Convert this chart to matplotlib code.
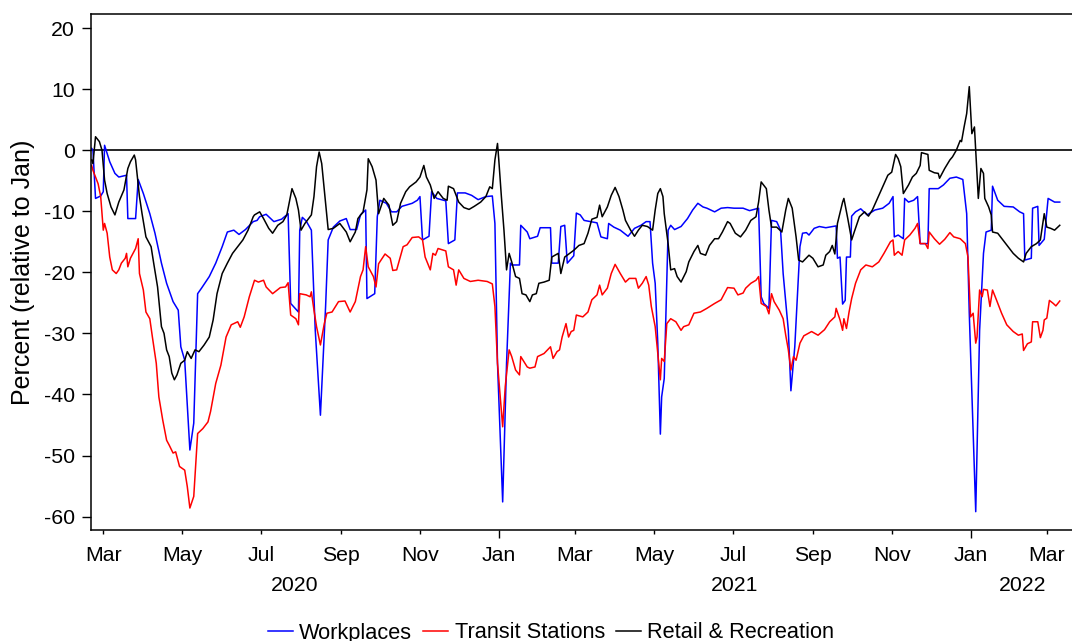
import matplotlib
matplotlib.use("Agg")
import matplotlib.pyplot as plt
import matplotlib.dates as mdates
import matplotlib.transforms as mtransforms
import pandas as pd

plt.rcParams["font.family"] = ["Liberation Sans", "DejaVu Sans"]
plt.rcParams["axes.unicode_minus"] = False

# mobility change vs January baseline, 7-day smoothed
# days are counted from this start date
start = pd.Timestamp("2020-02-15")

wp_day = [6, 7, 9, 13, 15, 16, 20, 24, 27, 33, 34, 40, 42, 46, 51, 55, 60, 64, 69, 73,
          75, 78, 82, 85, 88, 91, 97, 102, 107, 111, 116, 120, 125, 131, 134, 136, 141, 147, 153, 158,
          160, 166, 167, 169, 172, 176, 179, 183, 187, 189, 193, 198, 203, 206, 211, 214, 218, 219, 225, 227,
          229, 234, 238, 242, 246, 254, 258, 260, 262, 267, 269, 273, 280, 282, 287, 289, 295, 300, 305, 311,
          316, 318, 320, 324, 327, 330, 331, 337, 338, 343, 345, 351, 353, 361, 362, 367, 369, 372, 374, 379,
          381, 384, 387, 392, 397, 400, 405, 406, 410, 415, 421, 426, 431, 435, 438, 440, 442, 444, 446, 447,
          449, 452, 454, 457, 462, 467, 471, 475, 479, 482, 488, 493, 498, 503, 510, 515, 522, 524, 526, 530,
          532, 536, 539, 541, 545, 547, 550, 554, 556, 559, 561, 565, 569, 574, 582, 583, 585, 587, 589, 590,
          593, 594, 597, 601, 606, 612, 618, 623, 626, 627, 630, 634, 635, 638, 642, 645, 647, 653, 654, 661,
          665, 670, 675, 680, 683, 685, 690, 693, 696, 698, 702, 703, 707, 712, 719, 724, 727, 728, 733, 734,
          738, 739, 743, 746, 751, 755]
wp_val = [0.3, 0.0, -7.9, -7.5, -6.8, 0.8, -1.9, -3.8, -4.4, -4.1, -11.2, -11.2, -4.8, -7.1, -10.4, -13.6, -18.5, -21.8, -24.8, -26.2,
          -32.2, -34.4, -49.1, -44.7, -23.5, -22.6, -20.7, -18.5, -15.8, -13.4, -13.1, -13.8, -13.0, -11.7, -11.5, -10.9, -10.5, -11.7, -11.3, -10.4,
          -25.1, -26.5, -13.1, -11.0, -11.6, -13.1, -29.5, -43.4, -25.6, -14.7, -12.6, -11.6, -11.2, -13.0, -13.0, -10.6, -9.8, -24.3, -23.5, -10.9,
          -8.2, -8.7, -10.1, -10.1, -9.2, -8.7, -8.2, -7.6, -14.7, -14.1, -6.8, -7.9, -8.3, -15.3, -14.7, -7.0, -7.0, -7.4, -8.1, -7.6,
          -7.5, -12.0, -34.9, -57.6, -34.9, -18.5, -18.8, -18.8, -12.3, -13.4, -14.5, -14.1, -12.7, -12.7, -18.5, -18.5, -12.5, -12.3, -18.5, -17.3,
          -10.3, -10.6, -11.5, -11.7, -11.9, -14.2, -14.5, -12.0, -12.6, -13.1, -14.1, -12.8, -12.3, -11.7, -11.7, -18.5, -21.8, -31.6, -46.5, -40.4,
          -37.4, -13.1, -12.3, -13.0, -12.5, -11.2, -9.8, -8.7, -9.3, -9.5, -10.1, -9.5, -9.4, -9.5, -9.5, -9.9, -9.5, -24.0, -25.1, -25.9,
          -11.5, -11.7, -13.1, -20.2, -29.5, -39.4, -32.2, -15.8, -13.6, -13.5, -13.9, -12.8, -12.5, -12.7, -12.4, -17.7, -17.5, -25.2, -24.6, -17.5,
          -17.5, -10.8, -10.1, -9.6, -10.6, -9.8, -9.5, -8.7, -7.6, -14.2, -13.9, -14.5, -7.9, -8.5, -8.2, -7.6, -15.3, -15.3, -6.3, -6.3,
          -5.7, -4.6, -4.4, -4.8, -10.4, -26.7, -59.2, -29.5, -16.9, -13.4, -13.1, -5.9, -8.2, -9.2, -9.3, -10.1, -10.4, -18.0, -17.7, -9.5,
          -9.2, -15.6, -14.6, -7.9, -8.5, -8.5]

tr_day = [6, 7, 11, 13, 15, 16, 18, 20, 22, 25, 27, 29, 32, 33, 34, 36, 40, 42, 43, 46,
          48, 51, 53, 56, 58, 61, 64, 66, 69, 71, 74, 78, 80, 82, 85, 88, 92, 96, 98, 102,
          106, 110, 114, 119, 121, 124, 128, 132, 135, 139, 141, 146, 152, 156, 158, 160, 164, 166, 167, 172,
          175, 176, 178, 180, 183, 186, 188, 192, 197, 202, 206, 210, 214, 216, 218, 220, 224, 226, 228, 233,
          237, 239, 242, 247, 250, 254, 259, 262, 264, 268, 270, 272, 274, 280, 282, 286, 288, 290, 294, 299,
          305, 312, 316, 318, 320, 324, 326, 329, 331, 334, 337, 338, 343, 345, 349, 351, 356, 361, 363, 366,
          368, 370, 373, 375, 377, 379, 381, 386, 390, 393, 397, 399, 401, 405, 408, 411, 415, 419, 422, 427,
          429, 432, 435, 437, 439, 442, 446, 447, 449, 451, 454, 458, 462, 464, 468, 472, 477, 482, 488, 493,
          498, 503, 506, 510, 512, 516, 520, 522, 524, 528, 530, 532, 534, 538, 541, 543, 545, 547, 549, 551,
          554, 557, 563, 568, 573, 577, 581, 582, 585, 587, 588, 590, 592, 594, 597, 601, 605, 610, 615, 619,
          624, 626, 627, 630, 633, 635, 639, 643, 645, 647, 651, 653, 654, 658, 662, 666, 670, 673, 678, 682,
          684, 686, 688, 690, 691, 693, 695, 696, 699, 701, 703, 706, 710, 714, 719, 723, 726, 727, 730, 733,
          734, 738, 740, 742, 743, 745, 747, 750, 752, 755]
tr_val = [-2.5, -3.3, -5.5, -7.6, -13.1, -12.0, -13.6, -17.5, -19.6, -20.2, -19.6, -18.5, -17.7, -16.9, -19.1, -17.7, -16.1, -14.5, -20.2, -22.9,
          -26.5, -27.6, -30.6, -34.9, -40.4, -44.2, -47.5, -48.3, -49.6, -49.4, -51.8, -52.4, -55.1, -58.6, -56.7, -46.4, -45.6, -44.5, -42.8, -38.2,
          -35.2, -30.6, -28.6, -28.1, -29.0, -27.3, -24.0, -21.3, -21.6, -21.3, -22.4, -23.5, -22.5, -22.4, -21.7, -27.0, -27.6, -28.6, -23.5, -23.7,
          -24.0, -23.2, -26.2, -28.9, -31.9, -28.4, -26.7, -26.5, -24.8, -24.7, -26.5, -24.8, -20.7, -19.6, -15.8, -19.1, -20.7, -22.4, -18.6, -17.0,
          -17.7, -19.7, -19.6, -15.8, -15.5, -14.3, -14.2, -14.7, -17.5, -19.6, -16.9, -17.2, -16.1, -16.5, -19.1, -19.6, -22.1, -19.6, -21.0, -21.5,
          -21.3, -21.5, -21.9, -25.6, -34.9, -45.3, -38.7, -32.7, -33.8, -36.0, -36.8, -33.8, -35.5, -35.7, -35.5, -33.8, -33.3, -32.2, -34.1, -33.0,
          -32.7, -30.6, -28.4, -30.6, -29.7, -29.5, -27.0, -27.3, -26.5, -24.5, -23.7, -22.1, -23.7, -22.6, -20.2, -18.7, -20.2, -21.6, -21.0, -21.0,
          -22.6, -21.8, -20.7, -22.1, -25.6, -28.9, -37.6, -34.1, -34.6, -28.4, -27.6, -28.1, -29.5, -28.9, -28.6, -26.7, -26.5, -25.9, -25.1, -24.5,
          -22.5, -22.6, -23.7, -23.4, -22.6, -21.8, -21.3, -20.7, -25.1, -25.6, -26.8, -23.5, -24.8, -26.2, -27.6, -30.3, -32.7, -36.0, -33.8, -34.4,
          -31.6, -30.4, -29.7, -30.3, -29.4, -28.1, -27.3, -25.9, -27.8, -29.5, -27.6, -29.2, -26.5, -24.3, -21.8, -19.6, -18.8, -19.1, -18.3, -16.9,
          -15.0, -14.7, -17.2, -16.6, -17.2, -14.7, -13.9, -12.8, -12.0, -15.3, -15.3, -16.1, -13.4, -14.5, -15.4, -14.6, -13.5, -14.2, -14.5, -15.3,
          -17.5, -27.3, -26.7, -31.6, -30.6, -22.9, -24.0, -22.8, -22.9, -25.6, -22.9, -24.5, -26.7, -28.6, -29.7, -30.3, -30.1, -32.8, -31.7, -31.4,
          -28.1, -28.1, -30.7, -29.5, -27.8, -27.5, -24.6, -25.1, -25.5, -24.7]

rr_day = [6, 7, 9, 12, 14, 16, 18, 21, 24, 27, 31, 34, 36, 39, 40, 43, 45, 48, 52, 54,
          57, 60, 62, 64, 66, 68, 70, 72, 75, 78, 80, 83, 86, 89, 93, 97, 100, 103, 107, 111,
          115, 119, 123, 127, 131, 132, 136, 139, 143, 146, 150, 154, 157, 161, 164, 166, 168, 171, 176, 178,
          180, 182, 184, 187, 189, 193, 198, 203, 206, 210, 212, 216, 219, 220, 223, 226, 228, 232, 236, 239,
          242, 245, 249, 252, 257, 260, 263, 265, 268, 271, 274, 278, 281, 282, 286, 290, 294, 298, 302, 307,
          311, 314, 316, 318, 320, 321, 323, 325, 327, 329, 331, 334, 337, 339, 342, 345, 347, 350, 352, 356,
          360, 362, 367, 369, 372, 379, 383, 387, 390, 393, 397, 399, 401, 405, 408, 411, 414, 417, 419, 423,
          426, 429, 432, 436, 440, 442, 444, 446, 448, 449, 452, 454, 457, 459, 462, 466, 468, 472, 475, 477,
          481, 484, 488, 491, 494, 498, 500, 504, 508, 512, 516, 520, 522, 524, 528, 530, 532, 536, 540, 543,
          545, 548, 551, 553, 556, 561, 564, 568, 572, 574, 577, 579, 581, 583, 587, 588, 591, 594, 596, 600,
          604, 607, 610, 614, 618, 622, 625, 628, 630, 632, 634, 638, 641, 644, 647, 648, 653, 654, 658, 661,
          662, 666, 670, 672, 675, 678, 679, 681, 683, 685, 686, 687, 689, 690, 692, 694, 696, 697, 700, 702,
          703, 707, 711, 715, 719, 723, 727, 729, 733, 737, 740, 743, 745, 748, 751, 755]
rr_val = [-1.6, -2.2, 2.2, 1.4, 0.0, -4.9, -7.1, -9.3, -10.6, -8.5, -6.5, -3.0, -1.9, -0.8, -1.6, -7.6, -10.4, -14.2, -15.8, -18.5,
          -22.4, -28.9, -30.0, -32.7, -33.8, -36.5, -37.6, -36.8, -34.9, -34.4, -33.0, -34.1, -32.7, -33.0, -31.9, -30.6, -27.8, -23.5, -20.2, -18.5,
          -16.9, -15.8, -14.7, -13.1, -10.9, -10.6, -10.1, -11.2, -12.8, -13.6, -12.3, -11.7, -10.6, -6.3, -7.9, -9.8, -13.1, -12.0, -10.6, -7.6,
          -2.7, -0.3, -2.2, -8.7, -13.0, -12.8, -12.0, -13.4, -15.0, -13.4, -11.2, -10.1, -6.5, -1.4, -2.7, -4.9, -10.4, -7.9, -9.0, -12.3,
          -11.7, -8.7, -6.8, -6.0, -5.2, -4.4, -2.5, -4.4, -5.7, -7.9, -6.8, -7.9, -8.2, -5.9, -6.3, -8.5, -9.4, -9.7, -9.2, -8.5,
          -7.6, -6.0, -6.3, -1.6, 1.1, -1.6, -7.6, -13.1, -19.6, -16.9, -18.3, -20.7, -21.0, -23.5, -23.7, -24.8, -23.7, -23.5, -21.8, -21.6,
          -21.3, -17.5, -16.9, -20.2, -17.5, -16.4, -15.6, -15.3, -13.6, -11.3, -11.0, -9.0, -10.9, -9.3, -7.4, -6.1, -7.6, -9.8, -11.5, -13.1,
          -14.1, -13.1, -12.3, -12.5, -13.1, -9.8, -7.1, -6.3, -7.6, -10.4, -15.3, -19.6, -19.4, -20.7, -21.6, -19.9, -18.3, -16.6, -15.6, -16.9,
          -17.2, -15.6, -14.5, -14.5, -13.4, -11.7, -12.0, -13.6, -14.2, -13.1, -11.5, -10.9, -8.5, -5.2, -6.3, -9.8, -12.6, -12.6, -13.4, -9.8,
          -7.9, -9.5, -14.2, -18.0, -18.3, -17.2, -17.7, -19.1, -18.8, -17.2, -16.6, -15.6, -17.0, -12.0, -8.5, -7.9, -11.2, -14.7, -13.4, -10.9,
          -10.1, -10.8, -9.8, -7.9, -6.0, -4.1, -3.6, -0.7, -1.4, -2.7, -7.1, -5.7, -4.4, -3.8, -2.5, -0.4, -0.7, -3.3, -3.7, -3.8,
          -4.6, -3.0, -1.6, -1.1, 0.0, 1.6, 1.4, 3.8, 6.0, 10.4, 6.5, 2.7, 3.8, 0.0, -7.9, -3.0, -3.8, -7.9, -9.3, -10.6,
          -13.4, -13.6, -14.7, -15.8, -16.9, -17.7, -18.3, -16.9, -15.8, -15.3, -14.7, -10.4, -12.6, -12.8, -13.1, -12.3]

years = [2020, 2021, 2022]


def to_dates(days):
    return start + pd.to_timedelta(days, unit="D")


fig = plt.figure(figsize=(10.72, 6.41), dpi=100)
ax = fig.add_axes([91 / 1072, 111 / 641, (1075 - 91) / 1072, 516 / 641])

ax.axhline(0, color="black", lw=1.2, zorder=1)
ax.plot(to_dates(wp_day), wp_val, color="#0000ff", lw=1.1, label="Workplaces")
ax.plot(to_dates(tr_day), tr_val, color="#ff0000", lw=1.1, label="Transit Stations")
ax.plot(to_dates(rr_day), rr_val, color="black", lw=1.1, label="Retail & Recreation")

ax.set_xlim(start + pd.Timedelta(days=5.5), start + pd.Timedelta(days=766.8))
ax.set_ylim(-62.2, 22.3)
ax.set_yticks(range(-60, 21, 10))

# Jan ticks are longer, other odd months get short ticks
ax.xaxis.set_major_locator(mdates.YearLocator())
ax.xaxis.set_major_formatter(mdates.DateFormatter("%b"))
ax.xaxis.set_minor_locator(mdates.MonthLocator(bymonth=[3, 5, 7, 9, 11]))
ax.xaxis.set_minor_formatter(mdates.DateFormatter("%b"))
ax.tick_params(axis="x", which="major", length=5.8, width=1, pad=5.6, labelsize=15.3)
ax.tick_params(axis="x", which="minor", length=3.2, width=1, pad=8.2, labelsize=15.3)
ax.tick_params(axis="y", length=6.5, width=1, pad=5, labelsize=15.3)

for side in ["left", "bottom", "top"]:
    ax.spines[side].set_linewidth(1.1)
ax.spines["right"].set_visible(False)

ax.set_ylabel("Percent (relative to Jan)", fontsize=18)
ax.yaxis.set_label_coords(-0.057, 0.5)

# year labels centred under the visible part of each year
lo, hi = ax.get_xlim()
trans = mtransforms.blended_transform_factory(ax.transData, ax.transAxes)
for yr in years:
    a = max(mdates.date2num(pd.Timestamp(f"{yr}-01-01")), lo)
    b = min(mdates.date2num(pd.Timestamp(f"{yr + 1}-01-01")), hi)
    ax.text((a + b) / 2, -0.108, str(yr), transform=trans, ha="center", va="center", fontsize=15.3)

handles, labels = ax.get_legend_handles_labels()
fig.legend(handles, labels, loc="center", bbox_to_anchor=(551 / 1072, (641 - 633) / 641), ncol=3,
           frameon=False, fontsize=15.7, handlelength=1.15, handletextpad=0.3, columnspacing=0.5)

fig.savefig("out.png", dpi=100)
